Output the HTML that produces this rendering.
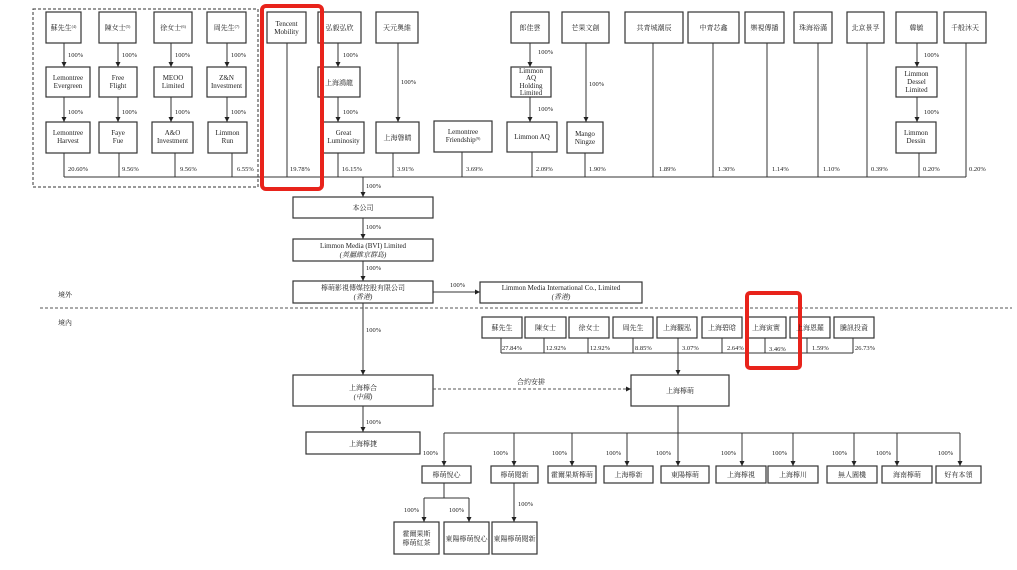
<!DOCTYPE html>
<html><head><meta charset="utf-8">
<style>
html,body{margin:0;padding:0;background:#fff;}
svg{display:block;}
text{font-family:"Liberation Serif","Noto Serif CJK TC","Noto Serif CJK SC",serif;fill:#222;}
.p{font-size:6.5px;}
.t{font-size:7px;text-anchor:middle;}
.c{font-size:7px;text-anchor:middle;}
.i{font-style:italic;}
</style></head>
<body>
<svg width="1017" height="570" viewBox="0 0 1017 570" xmlns="http://www.w3.org/2000/svg">
<defs>
<marker id="a" markerUnits="userSpaceOnUse" markerWidth="6" markerHeight="6" refX="5" refY="3" orient="auto">
<path d="M0,0.5 L5,3 L0,5.5 z" fill="#222"/>
</marker>
</defs>

<!-- dashed group box -->
<rect x="33" y="9" width="225" height="178" fill="none" stroke="#333" stroke-width="1" stroke-dasharray="3,2"/>

<g fill="#fff" stroke="#333" stroke-width="1.2">
<!-- top row -->
<rect x="46" y="12" width="35" height="31"/>
<rect x="99" y="12" width="37" height="31"/>
<rect x="154" y="12" width="38" height="31"/>
<rect x="207" y="12" width="39" height="31"/>
<rect x="267" y="12" width="39" height="31"/>
<rect x="318" y="12" width="43" height="31"/>
<rect x="376" y="12" width="42" height="31"/>
<rect x="511" y="12" width="38" height="31"/>
<rect x="562" y="12" width="47" height="31"/>
<rect x="625" y="12" width="58" height="31"/>
<rect x="688" y="12" width="51" height="31"/>
<rect x="745" y="12" width="39" height="31"/>
<rect x="794" y="12" width="38" height="31"/>
<rect x="847" y="12" width="37" height="31"/>
<rect x="896" y="12" width="41" height="31"/>
<rect x="944" y="12" width="42" height="31"/>
<!-- middle row -->
<rect x="46" y="67" width="44" height="30"/>
<rect x="99" y="67" width="38" height="30"/>
<rect x="154" y="67" width="38" height="30"/>
<rect x="207" y="67" width="39" height="30"/>
<rect x="318" y="67" width="42" height="30"/>
<rect x="511" y="67" width="40" height="30"/>
<rect x="896" y="67" width="41" height="30"/>
<!-- bottom row -->
<rect x="46" y="122" width="44" height="31"/>
<rect x="99" y="122" width="38" height="31"/>
<rect x="152" y="122" width="41" height="31"/>
<rect x="208" y="122" width="39" height="31"/>
<rect x="323" y="122" width="41" height="31"/>
<rect x="376" y="122" width="43" height="31"/>
<rect x="434" y="121" width="58" height="31"/>
<rect x="507" y="122" width="50" height="30"/>
<rect x="567" y="122" width="36" height="31"/>
<rect x="896" y="122" width="40" height="31"/>
<!-- center chain -->
<rect x="293" y="197" width="140" height="21"/>
<rect x="293" y="239" width="140" height="22"/>
<rect x="293" y="281" width="140" height="22"/>
<rect x="480" y="282" width="162" height="21"/>
<!-- domestic shareholders -->
<rect x="482" y="317" width="40" height="21"/>
<rect x="525" y="317" width="41" height="21"/>
<rect x="569" y="317" width="40" height="21"/>
<rect x="613" y="317" width="40" height="21"/>
<rect x="657" y="317" width="40" height="21"/>
<rect x="702" y="317" width="40" height="21"/>
<rect x="746" y="317" width="40" height="21"/>
<rect x="790" y="317" width="40" height="21"/>
<rect x="834" y="317" width="40" height="21"/>
<rect x="293" y="375" width="140" height="31"/>
<rect x="631" y="375" width="98" height="31"/>
<rect x="306" y="432" width="114" height="22"/>
<!-- subsidiaries -->
<rect x="422" y="466" width="49" height="17"/>
<rect x="491" y="466" width="47" height="17"/>
<rect x="548" y="466" width="48" height="17"/>
<rect x="604" y="466" width="49" height="17"/>
<rect x="661" y="466" width="48" height="17"/>
<rect x="716" y="466" width="50" height="17"/>
<rect x="768" y="466" width="50" height="17"/>
<rect x="827" y="466" width="50" height="17"/>
<rect x="882" y="466" width="50" height="17"/>
<rect x="936" y="466" width="45" height="17"/>
<rect x="394" y="522" width="45" height="32"/>
<rect x="444" y="522" width="45" height="32"/>
<rect x="492" y="522" width="45" height="32"/>
</g>

<g stroke="#333" stroke-width="1" fill="none">
<!-- top -> middle arrows -->
<line x1="64" y1="43" x2="64" y2="67" marker-end="url(#a)"/>
<line x1="118" y1="43" x2="118" y2="67" marker-end="url(#a)"/>
<line x1="171" y1="43" x2="171" y2="67" marker-end="url(#a)"/>
<line x1="227" y1="43" x2="227" y2="67" marker-end="url(#a)"/>
<line x1="338" y1="43" x2="338" y2="67" marker-end="url(#a)"/>
<line x1="530" y1="43" x2="530" y2="67" marker-end="url(#a)"/>
<line x1="917" y1="43" x2="917" y2="67" marker-end="url(#a)"/>
<!-- middle -> bottom -->
<line x1="64" y1="97" x2="64" y2="122" marker-end="url(#a)"/>
<line x1="118" y1="97" x2="118" y2="122" marker-end="url(#a)"/>
<line x1="171" y1="97" x2="171" y2="122" marker-end="url(#a)"/>
<line x1="227" y1="97" x2="227" y2="122" marker-end="url(#a)"/>
<line x1="338" y1="97" x2="338" y2="122" marker-end="url(#a)"/>
<line x1="530" y1="97" x2="530" y2="122" marker-end="url(#a)"/>
<line x1="917" y1="97" x2="917" y2="122" marker-end="url(#a)"/>
<line x1="398" y1="43" x2="398" y2="122" marker-end="url(#a)"/>
<line x1="586" y1="43" x2="586" y2="122" marker-end="url(#a)"/>
<!-- to bus -->
<line x1="64" y1="153" x2="64" y2="177"/>
<line x1="119" y1="153" x2="119" y2="177"/>
<line x1="175" y1="153" x2="175" y2="177"/>
<line x1="232" y1="153" x2="232" y2="177"/>
<line x1="287" y1="43" x2="287" y2="177"/>
<line x1="338" y1="153" x2="338" y2="177"/>
<line x1="393" y1="153" x2="393" y2="177"/>
<line x1="462" y1="152" x2="462" y2="177"/>
<line x1="532" y1="152" x2="532" y2="177"/>
<line x1="585" y1="153" x2="585" y2="177"/>
<line x1="653" y1="43" x2="653" y2="177"/>
<line x1="713" y1="43" x2="713" y2="177"/>
<line x1="767" y1="43" x2="767" y2="177"/>
<line x1="818" y1="43" x2="818" y2="177"/>
<line x1="867" y1="43" x2="867" y2="177"/>
<line x1="919" y1="153" x2="919" y2="177"/>
<line x1="966" y1="43" x2="966" y2="177"/>
<line x1="64" y1="177" x2="966" y2="177"/>
<!-- chain -->
<line x1="363" y1="177" x2="363" y2="197" marker-end="url(#a)"/>
<line x1="363" y1="218" x2="363" y2="239" marker-end="url(#a)"/>
<line x1="363" y1="261" x2="363" y2="281" marker-end="url(#a)"/>
<line x1="433" y1="292" x2="480" y2="292" marker-end="url(#a)"/>
<line x1="363" y1="303" x2="363" y2="375" marker-end="url(#a)"/>
<!-- domestic shareholders -->
<line x1="501" y1="338" x2="501" y2="353"/>
<line x1="544" y1="338" x2="544" y2="353"/>
<line x1="588" y1="338" x2="588" y2="353"/>
<line x1="633" y1="338" x2="633" y2="353"/>
<line x1="678" y1="338" x2="678" y2="375" marker-end="url(#a)"/>
<line x1="722" y1="338" x2="722" y2="353"/>
<line x1="765" y1="338" x2="765" y2="353"/>
<line x1="807" y1="338" x2="807" y2="353"/>
<line x1="853" y1="338" x2="853" y2="353"/>
<line x1="501" y1="353" x2="853" y2="353"/>
<!-- 上海檸合 -> 上海檸捷 -->
<line x1="363" y1="406" x2="363" y2="432" marker-end="url(#a)"/>
<!-- bus to subsidiaries -->
<line x1="678" y1="406" x2="678" y2="466" marker-end="url(#a)"/>
<line x1="444" y1="433" x2="960" y2="433"/>
<line x1="444" y1="433" x2="444" y2="466" marker-end="url(#a)"/>
<line x1="514" y1="433" x2="514" y2="466" marker-end="url(#a)"/>
<line x1="572" y1="433" x2="572" y2="466" marker-end="url(#a)"/>
<line x1="627" y1="433" x2="627" y2="466" marker-end="url(#a)"/>
<line x1="742" y1="433" x2="742" y2="466" marker-end="url(#a)"/>
<line x1="793" y1="433" x2="793" y2="466" marker-end="url(#a)"/>
<line x1="854" y1="433" x2="854" y2="466" marker-end="url(#a)"/>
<line x1="897" y1="433" x2="897" y2="466" marker-end="url(#a)"/>
<line x1="960" y1="433" x2="960" y2="466" marker-end="url(#a)"/>
<!-- sub level -->
<line x1="444" y1="483" x2="444" y2="498"/>
<line x1="424" y1="498" x2="469" y2="498"/>
<line x1="424" y1="498" x2="424" y2="522" marker-end="url(#a)"/>
<line x1="469" y1="498" x2="469" y2="522" marker-end="url(#a)"/>
<line x1="514" y1="483" x2="514" y2="522" marker-end="url(#a)"/>
</g>

<!-- dashed lines -->
<line x1="40" y1="308" x2="1012" y2="308" stroke="#555" stroke-width="1" stroke-dasharray="3,2"/>
<line x1="433" y1="389" x2="631" y2="389" stroke="#555" stroke-width="1" stroke-dasharray="3,2" marker-end="url(#a)"/>

<!-- red highlight boxes -->
<rect x="262" y="6" width="60" height="183" rx="4" fill="none" stroke="#e8231b" stroke-width="4"/>
<rect x="747" y="293" width="53" height="75" rx="3" fill="none" stroke="#e8231b" stroke-width="4"/>

<!-- top row labels -->
<g class="c">
<text x="63.5" y="30" class="t">蘇先生<tspan font-size="4" dy="-2">(4)</tspan></text>
<text x="117.5" y="30" class="t">陳女士<tspan font-size="4" dy="-2">(5)</tspan></text>
<text x="173" y="30" class="t">徐女士<tspan font-size="4" dy="-2">(6)</tspan></text>
<text x="226.5" y="30" class="t">周先生<tspan font-size="4" dy="-2">(7)</tspan></text>
<text x="286.5" y="26" class="t">Tencent</text>
<text x="286.5" y="34" class="t">Mobility</text>
<text x="339.5" y="30" class="t">弘毅弘欣</text>
<text x="397" y="30" class="t">天元奧維</text>
<text x="530" y="30" class="t">郎佳雲</text>
<text x="585.5" y="30" class="t">芒果文創</text>
<text x="654" y="30" class="t">共青城潮辰</text>
<text x="713.5" y="30" class="t">中青芯鑫</text>
<text x="764.5" y="30" class="t">樂視傳播</text>
<text x="813" y="30" class="t">珠海裕滿</text>
<text x="865.5" y="30" class="t">北京景孚</text>
<text x="916.5" y="30" class="t">韓毓</text>
<text x="965" y="30" class="t">千般沐天</text>

<text x="68" y="80" class="t">Lemontree</text>
<text x="68" y="88" class="t">Evergreen</text>
<text x="118" y="80" class="t">Free</text>
<text x="118" y="88" class="t">Flight</text>
<text x="173" y="80" class="t">MEOO</text>
<text x="173" y="88" class="t">Limited</text>
<text x="226.5" y="80" class="t">Z&amp;N</text>
<text x="226.5" y="88" class="t">Investment</text>
<text x="339" y="85" class="t">上海鴻龍</text>
<text x="531" y="73" class="t">Limmon</text>
<text x="531" y="80" class="t">AQ</text>
<text x="531" y="88" class="t">Holding</text>
<text x="531" y="95" class="t">Limited</text>
<text x="916.5" y="76" class="t">Limmon</text>
<text x="916.5" y="84" class="t">Dessel</text>
<text x="916.5" y="92" class="t">Limited</text>

<text x="68" y="135" class="t">Lemontree</text>
<text x="68" y="143" class="t">Harvest</text>
<text x="118" y="135" class="t">Faye</text>
<text x="118" y="143" class="t">Fue</text>
<text x="172.5" y="135" class="t">A&amp;O</text>
<text x="172.5" y="143" class="t">Investment</text>
<text x="227.5" y="135" class="t">Limmon</text>
<text x="227.5" y="143" class="t">Run</text>
<text x="343.5" y="135" class="t">Great</text>
<text x="343.5" y="143" class="t">Luminosity</text>
<text x="397.5" y="140" class="t">上海磐睛</text>
<text x="463" y="134" class="t">Lemontree</text>
<text x="463" y="142" class="t">Friendship<tspan font-size="4" dy="-2">(9)</tspan></text>
<text x="532" y="139" class="t">Limmon AQ</text>
<text x="585" y="136" class="t">Mango</text>
<text x="585" y="144" class="t">Ningze</text>
<text x="916" y="135" class="t">Limmon</text>
<text x="916" y="143" class="t">Dessin</text>

<!-- chain labels -->
<text x="363" y="210" class="t">本公司</text>
<text x="363" y="248" class="t">Limmon Media (BVI) Limited</text>
<text x="363" y="257" class="t i">(英屬維京群島)</text>
<text x="363" y="290" class="t">檸萌影視傳媒控股有限公司</text>
<text x="363" y="299" class="t i">(香港)</text>
<text x="561" y="290" class="t">Limmon Media International Co., Limited</text>
<text x="561" y="299" class="t i">(香港)</text>

<text x="502" y="330" class="t">蘇先生</text>
<text x="545.5" y="330" class="t">陳女士</text>
<text x="589" y="330" class="t">徐女士</text>
<text x="633" y="330" class="t">周先生</text>
<text x="677" y="330" class="t">上海觀泓</text>
<text x="722" y="330" class="t">上海碧晗</text>
<text x="766" y="330" class="t">上海寅實</text>
<text x="810" y="330" class="t">上海恩羅</text>
<text x="854" y="330" class="t">騰訊投資</text>

<text x="363" y="390" class="t">上海檸合</text>
<text x="363" y="399" class="t i">(中國)</text>
<text x="680" y="393" class="t">上海檸萌</text>
<text x="363" y="446" class="t">上海檸捷</text>
<text x="531" y="384" class="t">合約安排</text>

<text x="446.5" y="477" class="t">檸萌悅心</text>
<text x="514.5" y="477" class="t">檸萌閱新</text>
<text x="572" y="477" class="t">霍爾果斯檸萌</text>
<text x="628.5" y="477" class="t">上海檸新</text>
<text x="685" y="477" class="t">東陽檸萌</text>
<text x="741" y="477" class="t">上海檸視</text>
<text x="793" y="477" class="t">上海檸川</text>
<text x="852" y="477" class="t">無人園機</text>
<text x="907" y="477" class="t">海南檸萌</text>
<text x="958.5" y="477" class="t">好有本領</text>
<text x="416.5" y="536" class="t">霍爾果斯</text>
<text x="416.5" y="545" class="t">檸萌紅茶</text>
<text x="466.5" y="541" class="t">東陽檸萌悅心</text>
<text x="514.5" y="541" class="t">東陽檸萌閱新</text>
</g>

<text x="58" y="297" style="font-size:7px">境外</text>
<text x="58" y="325" style="font-size:7px">境內</text>

<!-- percentages -->
<g class="p">
<text x="68" y="57">100%</text>
<text x="122" y="57">100%</text>
<text x="175" y="57">100%</text>
<text x="231" y="57">100%</text>
<text x="343" y="57">100%</text>
<text x="538" y="54">100%</text>
<text x="924" y="57">100%</text>
<text x="68" y="114">100%</text>
<text x="122" y="114">100%</text>
<text x="175" y="114">100%</text>
<text x="231" y="114">100%</text>
<text x="343" y="114">100%</text>
<text x="538" y="111">100%</text>
<text x="924" y="114">100%</text>
<text x="401" y="84">100%</text>
<text x="589" y="86">100%</text>

<text x="68" y="171">20.60%</text>
<text x="122" y="171">9.56%</text>
<text x="180" y="171">9.56%</text>
<text x="237" y="171">6.55%</text>
<text x="290" y="171">19.78%</text>
<text x="342" y="171">16.15%</text>
<text x="397" y="171">3.91%</text>
<text x="466" y="171">3.69%</text>
<text x="536" y="171">2.09%</text>
<text x="589" y="171">1.90%</text>
<text x="659" y="171">1.89%</text>
<text x="718" y="171">1.30%</text>
<text x="772" y="171">1.14%</text>
<text x="823" y="171">1.10%</text>
<text x="871" y="171">0.39%</text>
<text x="923" y="171">0.20%</text>
<text x="969" y="171">0.20%</text>

<text x="366" y="188">100%</text>
<text x="366" y="229">100%</text>
<text x="366" y="270">100%</text>
<text x="450" y="287">100%</text>
<text x="366" y="332">100%</text>

<text x="502" y="350">27.84%</text>
<text x="546" y="350">12.92%</text>
<text x="590" y="350">12.92%</text>
<text x="635" y="350">8.85%</text>
<text x="682" y="350">3.07%</text>
<text x="727" y="350">2.64%</text>
<text x="769" y="351">3.46%</text>
<text x="812" y="350">1.59%</text>
<text x="855" y="350">26.73%</text>

<text x="366" y="424">100%</text>
<text x="423" y="455">100%</text>
<text x="493" y="455">100%</text>
<text x="552" y="455">100%</text>
<text x="606" y="455">100%</text>
<text x="656" y="455">100%</text>
<text x="721" y="455">100%</text>
<text x="772" y="455">100%</text>
<text x="832" y="455">100%</text>
<text x="876" y="455">100%</text>
<text x="938" y="455">100%</text>
<text x="404" y="512">100%</text>
<text x="449" y="512">100%</text>
<text x="518" y="506">100%</text>
</g>
</svg>
</body></html>
